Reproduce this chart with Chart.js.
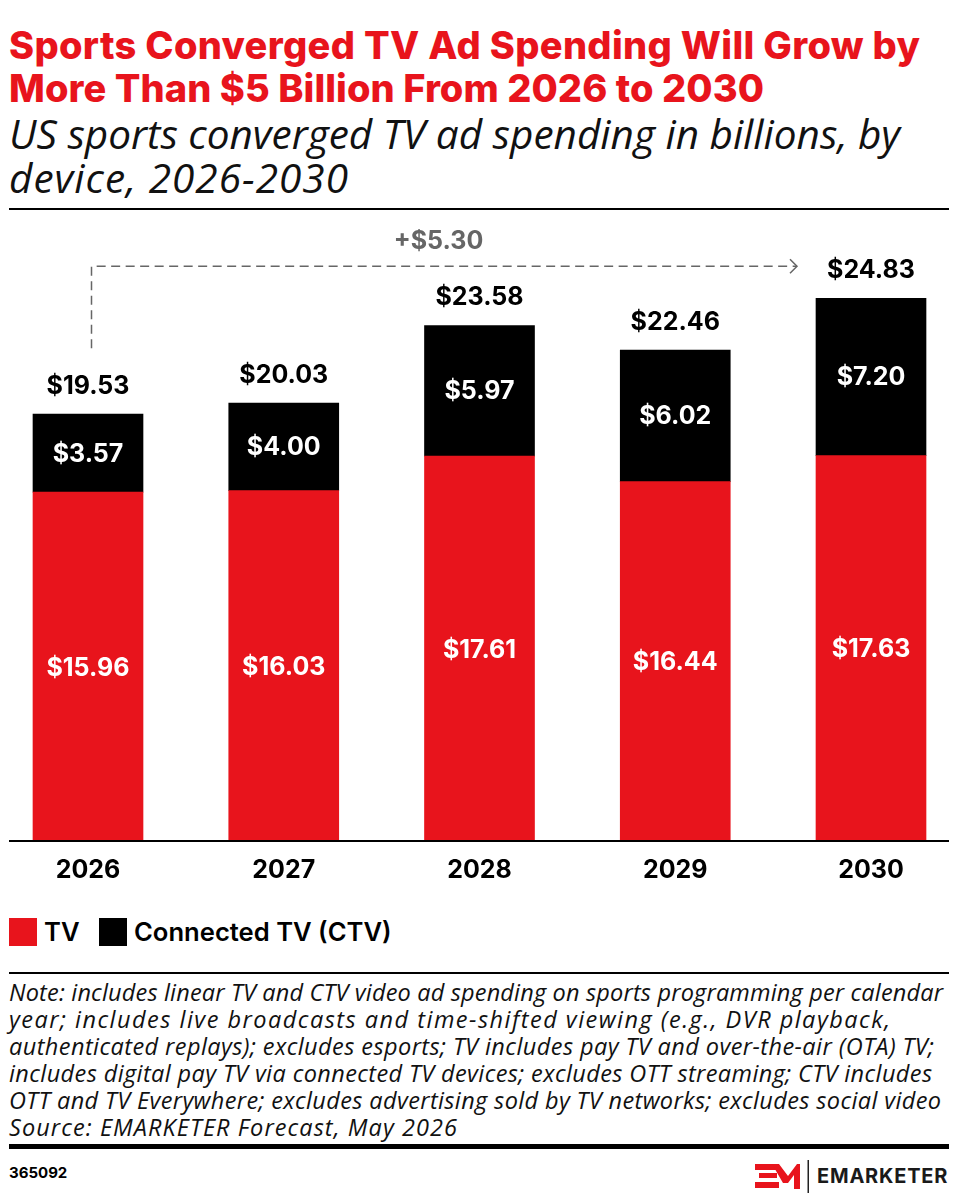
<!DOCTYPE html>
<html>
<head>
<meta charset="utf-8">
<script src="https://cdn.jsdelivr.net/npm/chart.js@4"></script>
<style>
  html, body { margin: 0; padding: 0; background: #fff; }
  body { position: relative; width: 958px; height: 1200px; overflow: hidden; font-family: Inter, sans-serif; color: #000; }
  .line { position: absolute; left: 9px; white-space: nowrap; }
  .title { font-size: 38px; font-weight: 800; color: #e8141c; line-height: 43px; }
  .sub { font-family: "Open Sans", sans-serif; font-size: 40.5px; font-style: italic; line-height: 44px; color: #111; }
  .note { font-family: "Open Sans", sans-serif; font-size: 23.5px; font-style: italic; line-height: 27px; color: #111; }
  .rule { position: absolute; left: 9px; width: 940px; background: #000; }
  #chartBox { position: absolute; left: 0; top: 229px; width: 958px; height: 671px; }
  .swatch { position: absolute; top: 918px; width: 28px; height: 28px; }
  .legendText { position: absolute; top: 915px; line-height: 34px; font-size: 25.6px; font-weight: 600; white-space: nowrap; }
  #code { position: absolute; left: 9px; top: 1163px; font-size: 15px; font-weight: 700; line-height: 20px; }
  #brand { position: absolute; left: 817px; top: 1163px; font-size: 20px; font-weight: 700; line-height: 26px; letter-spacing: 0.8px; color: #1a1a1a; white-space: nowrap; }
  #logo { position: absolute; left: 755px; top: 1160px; }
</style>
</head>
<body>
<div class="line title" data-w="911" style="top:24px">Sports Converged TV Ad Spending Will Grow by</div>
<div class="line title" data-w="755" style="top:67px">More Than $5 Billion From 2026 to 2030</div>
<div class="line sub" data-w="891" style="top:112px">US sports converged TV ad spending in billions, by</div>
<div class="line sub" data-w="339" style="top:156px">device, 2026-2030</div>
<div class="rule" style="top:208px;height:2px"></div>

<div id="chartBox"><canvas id="chart"></canvas></div>

<div class="swatch" style="left:9px;background:#e8141c"></div>
<div class="legendText" id="leg0" style="left:44px"></div>
<div class="swatch" style="left:99px;background:#000"></div>
<div class="legendText" id="leg1" style="left:134px"></div>

<div class="rule" style="top:972px;height:2px"></div>
<div class="line note" data-w="934" style="top:979px">Note: includes linear TV and CTV video ad spending on sports programming per calendar</div>
<div class="line note" data-w="881" style="top:1006px">year; includes live broadcasts and time-shifted viewing (e.g., DVR playback,</div>
<div class="line note" data-w="925" style="top:1033px">authenticated replays); excludes esports; TV includes pay TV and over-the-air (OTA) TV;</div>
<div class="line note" data-w="923" style="top:1060px">includes digital pay TV via connected TV devices; excludes OTT streaming; CTV includes</div>
<div class="line note" data-w="932" style="top:1087px">OTT and TV Everywhere; excludes advertising sold by TV networks; excludes social video</div>
<div class="line note" data-w="448" style="top:1114px">Source: EMARKETER Forecast, May 2026</div>
<div class="rule" style="top:1144px;height:5px"></div>

<div id="code">365092</div>
<svg id="logo" width="56" height="34" viewBox="0 0 56 34">
  <path fill="#e8141c" d="M0 4h20l3 6H0zM4 13h18v5H4zM0 22h24v6H0z"/>
  <path fill="#e8141c" d="M17 4h7l9 12 9-12h3v25h-6V15l-6 8-5 0z"/>
  <rect x="52.5" y="0" width="1.5" height="33" fill="#222"/>
</svg>
<div id="brand">EMARKETER</div>

<script>
const years = ["2026", "2027", "2028", "2029", "2030"];
const tvValues = [15.96, 16.03, 17.61, 16.44, 17.63];
const ctvValues = [3.57, 4.00, 5.97, 6.02, 7.20];
const totals = [19.53, 20.03, 23.58, 22.46, 24.83];
const seriesNames = ["TV", "Connected TV (CTV)"];
const growthLabel = "+$5.30";

const RED = "#e8141c";
const BASE_FONT = "Inter, sans-serif";

document.getElementById("leg0").textContent = seriesNames[0];
document.getElementById("leg1").textContent = seriesNames[1];

/* squeeze each text line to the width it has in the picture */
document.querySelectorAll(".line[data-w]").forEach(function (el) {
  const gap = (+el.dataset.w - el.getBoundingClientRect().width) / (el.textContent.length - 1);
  el.style.letterSpacing = gap.toFixed(3) + "px";
});

const money = v => "$" + v.toFixed(2);

/* ===== BAR LABELS, BASELINE, GROWTH ARROW ===== */
const extras = {
  id: "extras",
  afterDatasetsDraw(chart) {
    const ctx = chart.ctx;
    const x = chart.scales.x;
    const y = chart.scales.y;
    const y0 = y.getPixelForValue(0);

    ctx.save();
    ctx.fillStyle = "#000";
    ctx.fillRect(9, y0 - 1, 940, 2);

    ctx.textAlign = "center";
    ctx.textBaseline = "middle";
    ctx.font = "700 25px " + BASE_FONT;
    years.forEach(function (yr, i) {
      const px = x.getPixelForValue(i);
      ctx.fillStyle = "#fff";
      ctx.fillText(money(tvValues[i]), px, y.getPixelForValue(tvValues[i] / 2) + 1.5);
      ctx.fillText(money(ctvValues[i]), px, y.getPixelForValue(tvValues[i] + ctvValues[i] / 2) + 1);
      ctx.fillStyle = "#000";
      ctx.fillText(money(totals[i]), px, y.getPixelForValue(totals[i]) - 28);
    });

    // growth arrow from 2026 to 2030
    const startX = x.getPixelForValue(0) + 3.5;
    const endX = x.getPixelForValue(4) - 74;
    const startY = y.getPixelForValue(totals[0]) - 66;
    const topY = y.getPixelForValue(totals[4]) - 32;
    ctx.strokeStyle = "#666";
    ctx.lineWidth = 1.5;
    ctx.setLineDash([9, 5.5]);
    ctx.beginPath();
    ctx.moveTo(startX, startY);
    ctx.lineTo(startX, topY);
    ctx.lineTo(endX, topY);
    ctx.stroke();
    ctx.setLineDash([]);
    ctx.beginPath();
    ctx.moveTo(endX - 7, topY - 7);
    ctx.lineTo(endX, topY);
    ctx.lineTo(endX - 7, topY + 7);
    ctx.stroke();

    ctx.fillStyle = "#666";
    ctx.fillText(growthLabel, x.getPixelForValue(2) - 41, topY - 25);
    ctx.restore();
  }
};

new Chart(document.getElementById("chart"), {
  type: "bar",
  data: {
    labels: years,
    datasets: [
      { label: seriesNames[0], data: tvValues, backgroundColor: RED, clip: false },
      { label: seriesNames[1], data: ctvValues, backgroundColor: "#000", clip: false }
    ]
  },
  options: {
    responsive: true,
    maintainAspectRatio: false,
    animation: false,
    barThickness: 110,
    layout: { padding: { left: 88, right: 87, top: 0, bottom: 0 } },
    plugins: { legend: { display: false }, tooltip: { enabled: false } },
    scales: {
      x: {
        stacked: true,
        offset: false,
        grid: { display: false, drawTicks: false },
        border: { display: false },
        ticks: {
          maxRotation: 0,
          autoSkip: false,
          padding: 14,
          color: "#000",
          font: { family: BASE_FONT, size: 25, weight: "700" }
        },
        afterFit(scale) { scale.height = 59; }
      },
      y: {
        stacked: true,
        display: false,
        min: 0,
        max: 28
      }
    }
  },
  plugins: [extras]
});
</script>
</body>
</html>
